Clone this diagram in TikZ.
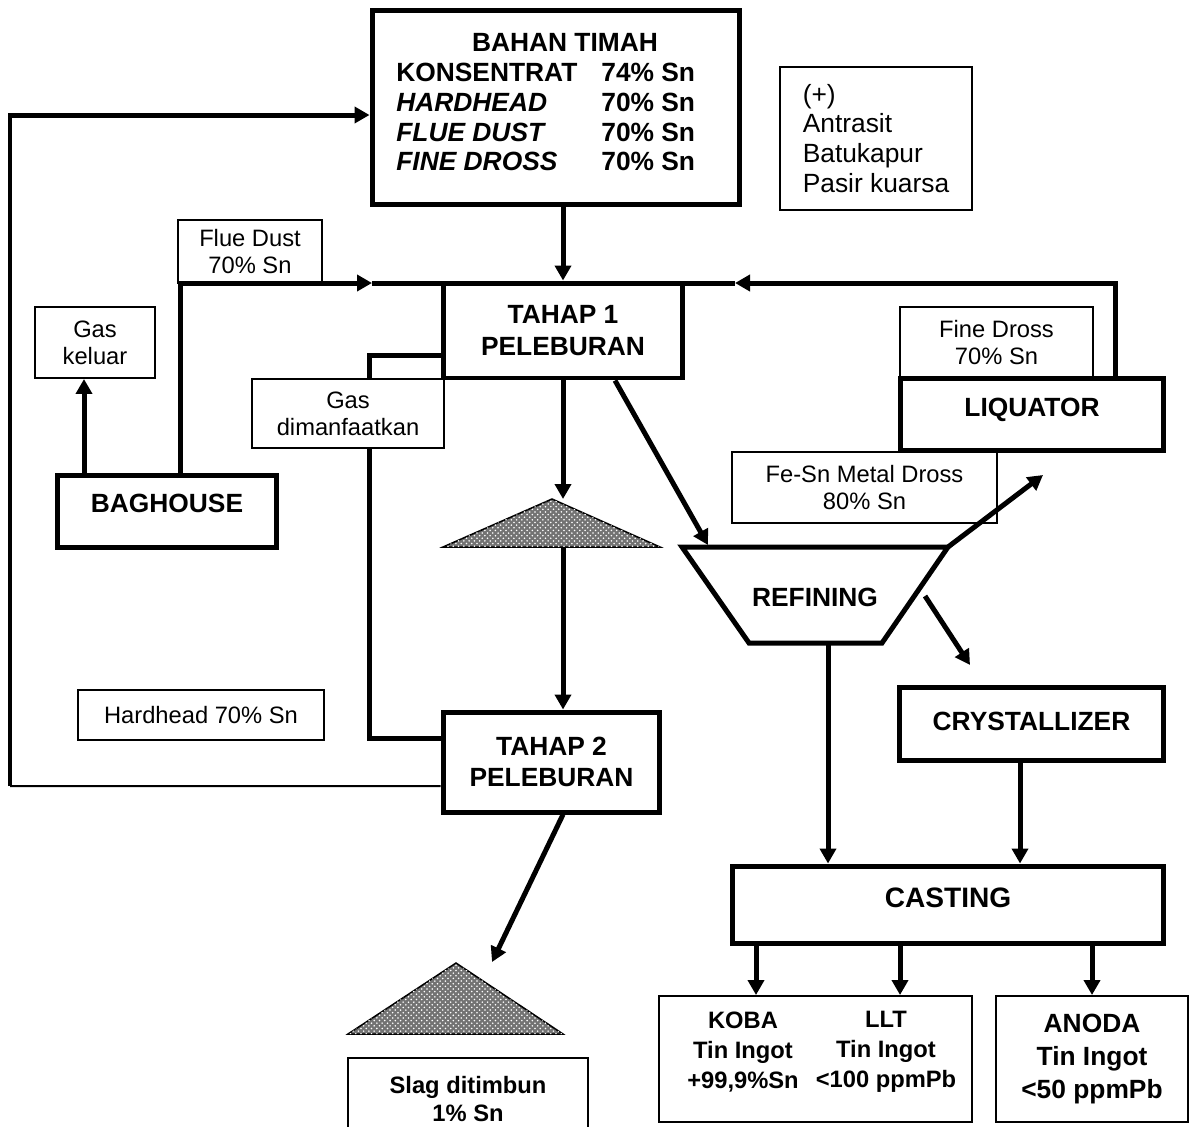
\documentclass[tikz,border=0pt]{standalone}
\usepackage{fontspec}
\setmainfont{Liberation Sans}
\usetikzlibrary{arrows.meta,patterns}

\begin{document}
\begin{tikzpicture}[x=0.02cm,y=-0.02cm,
  tebal/.style={line width=0.1cm},
  tipis/.style={line width=0.04cm},
  panah/.style={tebal,-{Triangle[length=0.3cm,width=0.32cm]}},
  kotak/.style={draw,tebal,fill=white,inner sep=0pt,align=center,font=\bfseries\fontsize{15}{18}\selectfont},
  ket/.style={draw,tipis,fill=white,inner sep=0pt,align=center,font=\fontsize{13.5}{15.3}\selectfont},
  tumpukan/.style={draw,line width=0.03cm,fill=black!55,postaction={pattern=crosshatch dots,pattern color=white}}]
\useasboundingbox (0,0) rectangle (1195,1126);

% bahan timah
\node[kotak,minimum width=7.36cm,minimum height=3.9cm] (bahan) at (556,107.5) {};
\node[font=\bfseries\fontsize{15}{17}\selectfont] (judul) at (565,42) {BAHAN TIMAH};
\node[font=\bfseries\fontsize{15}{17}\selectfont,align=left,anchor=west,inner sep=0pt] (jenis) at (396,117)
  {KONSENTRAT\\\textit{HARDHEAD}\\\textit{FLUE DUST}\\\textit{FINE DROSS}};
\node[font=\bfseries\fontsize{15}{17}\selectfont,align=left,anchor=west,inner sep=0pt] (kadar) at (601,117)
  {74\% Sn\\70\% Sn\\70\% Sn\\70\% Sn};
\node[draw,tipis,inner sep=0pt,minimum width=3.84cm,minimum height=2.86cm,align=left,
  font=\fontsize{15}{17}\selectfont] (tambahan) at (876,138.5) {(+)\\Antrasit\\Batukapur\\Pasir kuarsa};

% peleburan
\node[ket,minimum width=2.88cm,minimum height=1.26cm] (flue) at (250,251.5) {Flue Dust\\70\% Sn};
\node[ket,minimum width=2.4cm,minimum height=1.42cm] (gaskeluar) at (95,342.5) {Gas\\keluar};
\node[kotak,minimum width=4.8cm,minimum height=1.9cm] (tahap1) at (563,330.5) {TAHAP 1\\PELEBURAN};
\node[kotak,minimum width=4.4cm,minimum height=1.44cm,text depth=0.32cm] (baghouse) at (167,511) {BAGHOUSE};
\node[ket,minimum width=4.92cm,minimum height=1cm] (hardhead) at (201,715) {Hardhead 70\% Sn};
\node[kotak,minimum width=4.34cm,minimum height=2cm] (tahap2) at (551.5,762) {TAHAP 2\\PELEBURAN};

% refining dan liquator
\node[ket,minimum width=3.86cm,minimum height=1.42cm] (finedross) at (996.5,342.5) {Fine Dross\\70\% Sn};
\node[ket,minimum width=5.3cm,minimum height=1.42cm] (fesn) at (864.5,487.5) {Fe-Sn Metal Dross\\80\% Sn};
\node[kotak,minimum width=5.28cm,minimum height=1.44cm,text depth=0.28cm] (liquator) at (1032,414) {LIQUATOR};
\coordinate (rKiA) at (682,547);
\coordinate (rKA) at (948,547);
\coordinate (rKB) at (882,643);
\coordinate (rKiB) at (749,643);
\draw[tebal] (rKiA) -- (rKA) -- (rKB) -- (rKiB) -- cycle;
\node[font=\bfseries\fontsize{15}{18}\selectfont] (refining) at (815,597) {REFINING};
\node[kotak,minimum width=5.3cm,minimum height=1.46cm,text depth=0.1cm] (crystal) at (1031.5,723.5) {CRYSTALLIZER};
\node[kotak,minimum width=8.64cm,minimum height=1.54cm,text depth=0.26cm,font=\bfseries\fontsize{16}{19}\selectfont] (casting) at (948,904.5) {CASTING};

% produk
\node[draw,tipis,minimum width=6.26cm,minimum height=2.52cm] (produk1) at (815.5,1059) {};
\node[font=\bfseries\fontsize{13.5}{17}\selectfont,align=center] (koba) at (743,1052) {KOBA\\Tin Ingot\\+99,9\%Sn};
\node[font=\bfseries\fontsize{13.5}{17}\selectfont,align=center] (llt) at (886,1052) {LLT\\Tin Ingot\\<100 ppmPb};
\node[draw,tipis,minimum width=3.84cm,minimum height=2.52cm,align=center,
  font=\bfseries\fontsize{15}{18.7}\selectfont] (produk2) at (1092,1059) {ANODA\\Tin Ingot\\<50 ppmPb};

% tumpukan slag
\coordinate (puncak1) at (552,499);
\coordinate (dasar1) at (552,547);
\path[tumpukan] (puncak1) -- (443,547) -- (660,547) -- cycle;
\coordinate (puncak2) at (456,963);
\path[tumpukan] (puncak2) -- (348,1034) -- (563,1034) -- cycle;
\node[ket,minimum width=4.8cm,minimum height=1.64cm,font=\bfseries\fontsize{13.5}{16.5}\selectfont] (slag) at (468,1099) {Slag ditimbun\\1\% Sn};

% aliran
\coordinate (masukKiri) at (372,283);
\coordinate (masukKanan) at (735,283);
\draw[tebal] (masukKiri) -- (masukKanan);
\draw[panah] (tahap1.north |- bahan.south) -- (tahap1.north);
\draw[panah] ([xshift=0.26cm]baghouse.north) |- (masukKiri);
\coordinate (gk) at ([xshift=-0.22cm]gaskeluar.south);
\draw[panah] (gk |- baghouse.north) -- (gk);
\coordinate (lq) at ([xshift=1.66cm]liquator.north);
\draw[panah] (lq) |- (masukKanan);
\draw[tebal] ([yshift=-0.49cm]tahap1.west) -- ++(-1.42cm,0) |- ([yshift=0.48cm]tahap2.west);
\node[ket,minimum width=3.84cm,minimum height=1.38cm] (gasdim) at (348,413.5) {Gas\\dimanfaatkan};
\draw[panah] (tahap1.south) -- (tahap1.south |- puncak1);
\draw[panah] (tahap1.south |- dasar1) -- (tahap1.south |- tahap2.north);
\coordinate (rMasuk) at (708,545);
\draw[panah] ([xshift=1.04cm]tahap1.south) -- (rMasuk);
\coordinate (keLiquator) at (1043,475);
\draw[panah] (rKA) -- (keLiquator);
\coordinate (rSamping) at (925,596);
\coordinate (keKristal) at (970,665);
\draw[panah] (rSamping) -- (keKristal);
\coordinate (rBawah) at (828,643);
\draw[panah] (rBawah) -- (rBawah |- casting.north);
\coordinate (kb) at ([xshift=-0.23cm]crystal.south);
\draw[panah] (kb) -- (kb |- casting.north);
\foreach \x/\prd in {756/produk1,900/produk1,1092/produk2}{
  \coordinate (cx) at (\x,0);
  \draw[panah] (casting.south -| cx) -- (\prd.north -| cx);
}
\coordinate (ujung2) at (492,962);
\draw[panah] ([xshift=0.23cm]tahap2.south) -- (ujung2);
\coordinate (hkiri) at (10,786);
\draw[tipis] ([yshift=-0.48cm]tahap2.west) -- (hkiri);
\draw[panah] (hkiri) |- ([yshift=-0.15cm]bahan.west);
\end{tikzpicture}
\end{document}
